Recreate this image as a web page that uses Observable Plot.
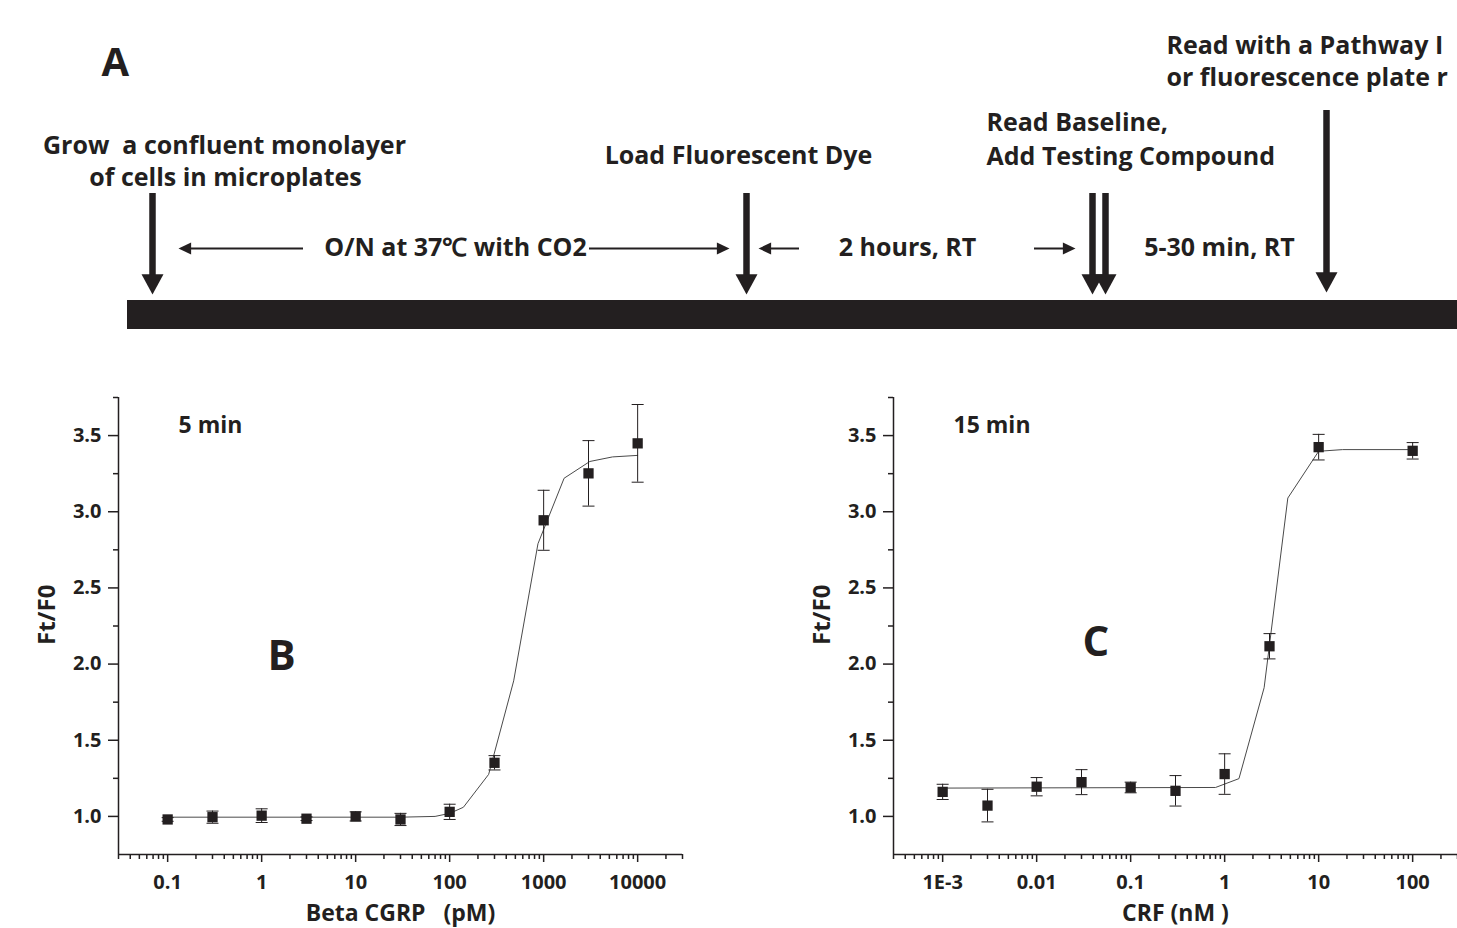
<!DOCTYPE html>
<html><head><meta charset="utf-8">
<script src="https://cdn.jsdelivr.net/npm/d3@7"></script>
<script src="https://cdn.jsdelivr.net/npm/@observablehq/plot@0.6"></script>
<style>
html,body{margin:0;padding:0;background:#fff;}
#fig{position:relative;width:1457px;height:928px;overflow:hidden;background:#fff;}
#fig svg{position:absolute;}
</style></head><body><div id="fig"></div>
<script>
// ---------- Panel A (workflow timeline) ----------
const eventX   = [152, 746, 1092, 1105, 1326];   // event arrows along the timeline
const eventTop = [193, 193, 193, 193, 110];
const eventTip = [294, 294, 294, 294, 292];
const spanFrom = [303, 589, 799, 1034];           // interval arrows
const spanTo   = [178, 729, 758, 1075];
const spanY    = [248, 248, 248, 248];
const barX = [127, 1457];
const barY = [300, 329];
const noteText = ["Grow  a confluent monolayer", "of cells in microplates", "Load Fluorescent Dye",
  "Read Baseline,", "Add Testing Compound", "Read with a Pathway I", "or fluorescence plate r",
  "O/N at 37℃ with CO2", "2 hours, RT", "5-30 min, RT"];
const noteX = [224, 225, 738, 986, 986, 1166, 1166, 455, 907, 1219];
const noteY = [145, 177, 155, 122, 156, 45, 77, 247, 247, 247];
const noteAnchor = ["middle","middle","middle","start","start","start","start","middle","middle","middle"];
const panelLetterA = ["A"];

// ---------- Panel B: Beta CGRP (pM), 5 min ----------
const bConc = [0.1, 0.3, 1, 3, 10, 30, 100, 300, 1000, 3000, 10000];
const bMean = [0.98, 0.995, 1.005, 0.985, 1.0, 0.98, 1.03, 1.352, 2.944, 3.252, 3.449];
const bErr  = [0.012, 0.04, 0.045, 0.012, 0.03, 0.04, 0.05, 0.047, 0.197, 0.215, 0.255];
const bFitX = [0.1, 30, 70, 100, 140, 260, 480, 870, 1650, 3100, 5400, 10000];
const bFitY = [0.995, 0.995, 1.0, 1.02, 1.06, 1.276, 1.89, 2.79, 3.22, 3.33, 3.36, 3.37];
const bTicks = [0.1, 1, 10, 100, 1000, 10000];
const bTickLabels = ["0.1", "1", "10", "100", "1000", "10000"];
const bDomain = [0.03, 30000];

// ---------- Panel C: CRF (nM), 15 min ----------
const cConc = [0.001, 0.003, 0.01, 0.03, 0.1, 0.3, 1, 3, 10, 100];
const cMean = [1.161, 1.071, 1.195, 1.225, 1.19, 1.168, 1.278, 2.117, 3.424, 3.40];
const cErr  = [0.05, 0.107, 0.06, 0.082, 0.035, 0.10, 0.133, 0.083, 0.084, 0.054];
const cFitX = [0.001, 0.8, 1.42, 2.63, 4.7, 10, 18, 100];
const cFitY = [1.186, 1.19, 1.248, 1.845, 3.09, 3.397, 3.408, 3.408];
const cTicks = [0.001, 0.01, 0.1, 1, 10, 100];
const cTickLabels = ["1E-3", "0.01", "0.1", "1", "10", "100"];
const cDomain = [0.0003, 300];

const yDomain = [0.75, 3.75];
const yMajor = [1.0, 1.5, 2.0, 2.5, 3.0, 3.5];
const yMinor = [1.25, 1.75, 2.25, 2.75, 3.25, 3.75];

const ink = "#231f20";
const font = '"Open Sans", sans-serif';

// custom symbols
const rOf = size => Math.sqrt(size / Math.PI);
const headDown  = {draw(ctx, s){const r=rOf(s), L=1.85*r; ctx.moveTo(0,0); ctx.lineTo(-r,-L); ctx.lineTo(r,-L); ctx.closePath();}};
const headLeft  = {draw(ctx, s){const r=rOf(s), L=2.1*r;  ctx.moveTo(0,0); ctx.lineTo(L,-r); ctx.lineTo(L,r); ctx.closePath();}};
const headRight = {draw(ctx, s){const r=rOf(s), L=2.1*r;  ctx.moveTo(0,0); ctx.lineTo(-L,-r); ctx.lineTo(-L,r); ctx.closePath();}};
const capLine   = {draw(ctx, s){const r=rOf(s); ctx.moveTo(-r,0); ctx.lineTo(r,0);}};

const fig = document.getElementById("fig");

// ----- schematic -----
const idx = d3.range(eventX.length);
const sidx = d3.range(spanFrom.length);
const nidx = d3.range(noteText.length);
const noteMark = anchor => Plot.text(nidx.filter(i => noteAnchor[i] === anchor), {
  x: i => noteX[i], y: i => noteY[i], text: i => noteText[i], textAnchor: anchor,
  lineAnchor: "middle", fontSize: 25, fontWeight: 700, fill: ink});
const schem = Plot.plot({
  width: 1457, height: 340, margin: 0,
  x: {type: "identity", axis: null}, y: {type: "identity", axis: null},
  style: {fontFamily: font, fontWeight: 700, color: ink, background: "transparent", whiteSpace: "pre"},
  marks: [
    Plot.rect([0], {x1: () => barX[0], x2: () => barX[1], y1: () => barY[0], y2: () => barY[1], fill: ink}),
    Plot.ruleX(idx, {x: i => eventX[i], y1: i => eventTop[i], y2: i => eventTip[i] - 12, stroke: ink, strokeWidth: 6.5}),
    Plot.dot(idx, {x: i => eventX[i], y: i => eventTip[i], symbol: headDown, r: 11, fill: ink, stroke: "none"}),
    Plot.ruleY(sidx, {x1: i => spanFrom[i], x2: i => spanTo[i] + Math.sign(spanFrom[i] - spanTo[i]) * 6, y: i => spanY[i], stroke: ink, strokeWidth: 2}),
    Plot.dot(sidx.filter(i => spanTo[i] < spanFrom[i]), {x: i => spanTo[i], y: i => spanY[i], symbol: headLeft, r: 6, fill: ink, stroke: "none"}),
    Plot.dot(sidx.filter(i => spanTo[i] > spanFrom[i]), {x: i => spanTo[i], y: i => spanY[i], symbol: headRight, r: 6, fill: ink, stroke: "none"}),
    noteMark("middle"),
    noteMark("start"),
    Plot.text(panelLetterA, {x: () => 101, y: () => 63, text: d => d, textAnchor: "start", lineAnchor: "middle", fontSize: 40, fontWeight: 700, fill: ink})
  ]
});
schem.style.left = "0px"; schem.style.top = "0px";
fig.appendChild(schem);

function minorTicks(domain) {
  const out = [];
  const lo = Math.floor(Math.log10(domain[0])), hi = Math.ceil(Math.log10(domain[1]));
  for (let e = lo; e <= hi; e++) for (let k = 2; k <= 9; k++) {
    const v = k * Math.pow(10, e);
    if (v >= domain[0] * 0.999 && v <= domain[1] * 1.001) out.push(v);
  }
  return out;
}

function panel(o) {
  const pts = o.conc.map((c, i) => ({c, m: o.mean[i], lo: o.mean[i] - o.err[i], hi: o.mean[i] + o.err[i]}));
  const fit = o.fitX.map((c, i) => ({c, v: o.fitY[i]}));
  const lab = d => o.labels[d3.minIndex(o.ticks, t => Math.abs(Math.log10(t / d)))];
  return Plot.plot({
    width: o.width, height: 548,
    marginLeft: o.marginLeft, marginRight: o.marginRight, marginTop: 17, marginBottom: 74,
    style: {fontFamily: font, fontSize: "20px", fontWeight: 700, color: ink, background: "transparent", overflow: "visible", whiteSpace: "pre"},
    x: {type: "log", domain: o.domain},
    y: {domain: yDomain},
    marks: [
      Plot.axisY({ticks: yMajor, tickSize: 10, tickPadding: 7, tickFormat: d3.format(".1f"), label: null, strokeWidth: 1.5}),
      Plot.axisY({ticks: yMinor, tickSize: 5, tickFormat: () => "", label: null, strokeWidth: 1.5}),
      Plot.axisX({ticks: o.ticks, tickSize: 8, tickPadding: 12, tickFormat: lab, label: null, strokeWidth: 1.5}),
      Plot.axisX({ticks: minorTicks(o.domain), tickSize: 5, tickFormat: () => "", label: null, strokeWidth: 1.5}),
      Plot.ruleX([o.domain[0]], {stroke: ink, strokeWidth: 1.5}),
      Plot.ruleY([yDomain[0]], {stroke: ink, strokeWidth: 1.5}),
      Plot.line(fit, {x: "c", y: "v", stroke: "#4a4a4a", strokeWidth: 1}),
      Plot.ruleX(pts, {x: "c", y1: "lo", y2: "hi", stroke: ink, strokeWidth: 1}),
      Plot.dot(pts, {x: "c", y: "lo", symbol: capLine, r: 6, stroke: ink, strokeWidth: 1, fill: "none"}),
      Plot.dot(pts, {x: "c", y: "hi", symbol: capLine, r: 6, stroke: ink, strokeWidth: 1, fill: "none"}),
      Plot.dot(pts, {x: "c", y: "m", symbol: "square", r: 5.8, fill: ink, stroke: "none"}),
      Plot.text([o.title], {text: d => d, frameAnchor: "top-left", dx: 60, dy: 28, textAnchor: "start", lineAnchor: "middle", fontSize: 23, fill: ink}),
      Plot.text([o.letter], {text: d => d, frameAnchor: "top-left", dx: o.letterDx, dy: o.letterDy, textAnchor: "start", lineAnchor: "middle", fontSize: 42, fill: ink}),
      Plot.text(["Ft/F0"], {text: d => d, frameAnchor: "left", rotate: -90, dx: -71, dy: 19, fontSize: 24, fill: ink}),
      Plot.text([o.xLabel], {text: d => d, frameAnchor: "bottom", dy: 59, lineAnchor: "middle", fontSize: 23, fill: ink})
    ]
  });
}

const pB = panel({conc: bConc, mean: bMean, err: bErr, fitX: bFitX, fitY: bFitY, domain: bDomain,
  ticks: bTicks, labels: bTickLabels, title: "5 min", letter: "B", letterDx: 149, letterDy: 259,
  xLabel: "Beta CGRP   (pM)", width: 728, marginLeft: 118, marginRight: 46});
pB.style.left = "0px"; pB.style.top = "380px";
fig.appendChild(pB);

const pC = panel({conc: cConc, mean: cMean, err: cErr, fitX: cFitX, fitY: cFitY, domain: cDomain,
  ticks: cTicks, labels: cTickLabels, title: "15 min", letter: "C", letterDx: 189, letterDy: 245,
  xLabel: "CRF (nM )", width: 729, marginLeft: 165, marginRight: 0});
pC.style.left = "728px"; pC.style.top = "380px";
fig.appendChild(pC);
</script>
</body></html>
